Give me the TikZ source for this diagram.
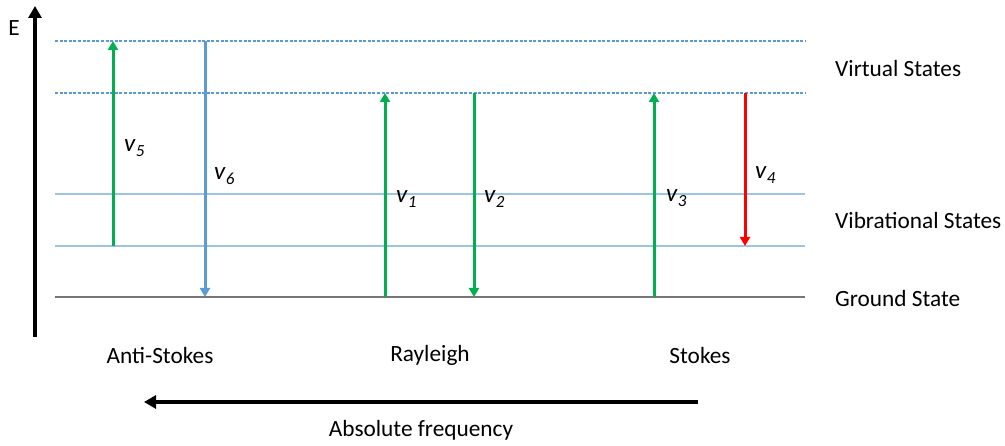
\documentclass[tikz,border=0pt]{standalone}
\usepackage{fontspec}
\setmainfont{Carlito}
\usetikzlibrary{arrows.meta}
\definecolor{trgreen}{HTML}{00B050}
\definecolor{trblue}{HTML}{5B9BD5}
\definecolor{levelblue}{HTML}{9DC3E6}
\definecolor{trred}{HTML}{FF0000}
\definecolor{groundgray}{HTML}{767676}
\newcommand{\nusub}[1]{v\kern0.5pt\raisebox{-0.2em}{\fontsize{17}{20}\selectfont #1}}
\begin{document}
\begin{tikzpicture}[x=1pt,y=-1pt,
  lbl/.style={font=\fontsize{23.3}{27}\selectfont, inner sep=0pt},
  nulbl/.style={font=\fontsize{25}{28}\selectfont\itshape, inner sep=0pt, anchor=west},
  virtual/.style={trblue, line width=1.1pt, dash pattern=on 3pt off 1.6pt},
  vibr/.style={levelblue, line width=1.3pt},
  ground/.style={groundgray, line width=1.6pt},
  trans/.style={line width=3pt, -{Triangle[length=9pt,width=10pt]}},
  axis/.style={line width=4.2pt, -{Triangle[length=12pt,width=13pt]}}
]
\useasboundingbox (0,0) rectangle (1005,446);

% energy levels
\draw[virtual] (55,41) -- (805,41);
\draw[virtual] (55,93) -- (805,93);
\draw[vibr] (55,194) -- (805,194);
\draw[vibr] (55,246) -- (805,246);
\draw[ground] (55,297) -- (805,297);

% energy axis
\coordinate (eb) at (35,337);
\coordinate (et) at (35,6);
\draw[axis] (eb) -- (et);
\node[lbl] (elabel) at (14,28) {E};

% transition end points
\coordinate (a5) at (113,246); \coordinate (b5) at (113,41);
\coordinate (a6) at (205,41);  \coordinate (b6) at (205,297);
\coordinate (a1) at (385,297); \coordinate (b1) at (385,93);
\coordinate (a2) at (474,93);  \coordinate (b2) at (474,297);
\coordinate (a3) at (654,297); \coordinate (b3) at (654,93);
\coordinate (a4) at (745,93);  \coordinate (b4) at (745,246);

\draw[trans, trgreen] (a5) -- (b5);
\draw[trans, trblue]  (a6) -- (b6);
\draw[trans, trgreen] (a1) -- (b1);
\draw[trans, trgreen] (a2) -- (b2);
\draw[trans, trgreen] (a3) -- (b3);
\draw[trans, trred]   (a4) -- (b4);

% transition labels
\node[nulbl] (n5) at (124,148) {\nusub{5}};
\node[nulbl] (n6) at (214,176) {\nusub{6}};
\node[nulbl] (n1) at (396,199) {\nusub{1}};
\node[nulbl] (n2) at (484,199) {\nusub{2}};
\node[nulbl] (n3) at (666,198) {\nusub{3}};
\node[nulbl] (n4) at (755,175) {\nusub{4}};

% level names
\node[lbl, anchor=west] (virt) at (835,68) {Virtual States};
\node[lbl, anchor=west] (vib) at (835,220) {Vibrational States};
\node[lbl, anchor=west] (gnd) at (835,298) {Ground State};

% scattering types
\node[lbl] (anti) at (160,355) {Anti-Stokes};
\node[lbl] (ray) at (430,355) {Rayleigh};
\node[lbl] (stokes) at (700,355) {Stokes};

% frequency axis
\coordinate (fr) at (698,402);
\coordinate (fl) at (144,402);
\draw[axis, line width=4pt] (fr) -- (fl);
\node[lbl] (freq) at (421,430) {Absolute frequency};
\end{tikzpicture}
\end{document}
